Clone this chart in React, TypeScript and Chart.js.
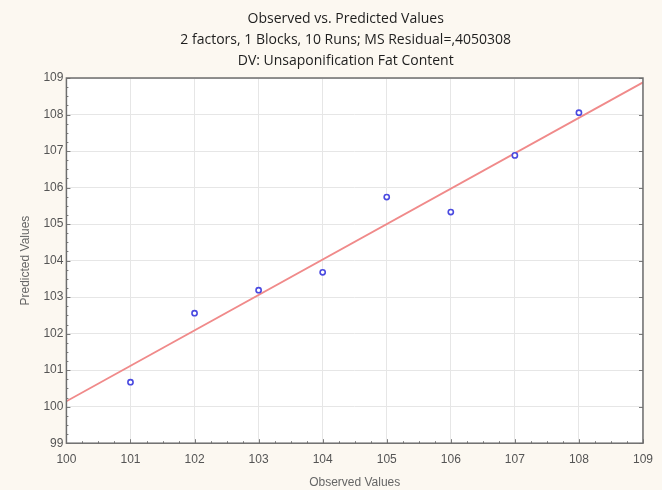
import React, { useEffect, useRef } from "react";
import { Chart, registerables } from "chart.js";

Chart.register(...registerables);

const titleLines = [
  "Observed vs. Predicted Values",
  "2 factors, 1 Blocks, 10 Runs; MS Residual=,4050308",
  "DV: Unsaponification Fat Content",
];
const xAxisTitle = "Observed Values";
const yAxisTitle = "Predicted Values";

const observed = [101, 102, 103, 104, 105, 106, 107, 108];
const predicted = [100.67, 102.56, 103.19, 103.68, 105.74, 105.33, 106.88, 108.05];

const fitX = [100, 109];
const fitY = [100.15, 108.88];

const xMin = 100;
const xMax = 109;
const yMin = 99;
const yMax = 109;

const BG = "#fcf8f1";

const framePlugin = {
  id: "framePlugin",
  beforeDraw(chart: any) {
    const { ctx, chartArea } = chart;
    ctx.save();
    ctx.fillStyle = BG;
    ctx.fillRect(0, 0, chart.width, chart.height);
    ctx.fillStyle = "#ffffff";
    ctx.fillRect(chartArea.left, chartArea.top, chartArea.right - chartArea.left, chartArea.bottom - chartArea.top);
    ctx.restore();
  },
  afterDraw(chart: any) {
    const { ctx, chartArea } = chart;
    const xs = chart.scales.x;
    const ys = chart.scales.y;
    ctx.save();
    ctx.strokeStyle = "#7a7a7a";
    ctx.lineWidth = 1;
    ctx.beginPath();
    for (let v = xMin; v <= xMax + 1e-9; v += 0.25) {
      const px = Math.round(xs.getPixelForValue(v)) + 0.5;
      const len = Math.abs(v - Math.round(v)) < 1e-9 ? 4 : 2;
      ctx.moveTo(px, chartArea.bottom);
      ctx.lineTo(px, chartArea.bottom - len);
    }
    for (let v = yMin; v <= yMax + 1e-9; v += 0.25) {
      const py = Math.round(ys.getPixelForValue(v)) + 0.5;
      const len = Math.abs(v - Math.round(v)) < 1e-9 ? 4 : 2;
      ctx.moveTo(chartArea.left, py);
      ctx.lineTo(chartArea.left + len, py);
      if (len === 4) {
        ctx.moveTo(chartArea.right, py);
        ctx.lineTo(chartArea.right - len, py);
      }
    }
    ctx.stroke();
    ctx.strokeStyle = "#6e6e6e";
    ctx.lineWidth = 1.5;
    ctx.strokeRect(chartArea.left, chartArea.top, chartArea.right - chartArea.left, chartArea.bottom - chartArea.top);
    const cx = (chartArea.left + chartArea.right) / 2 - 9;
    ctx.fillStyle = "#1e1e1e";
    ctx.font = "14px 'Open Sans', sans-serif";
    ctx.textAlign = "center";
    ctx.textBaseline = "middle";
    titleLines.forEach((t, i) => {
      ctx.fillText(t, cx, 19 + i * 21);
    });
    ctx.restore();
  },
};

export default function App() {
  const ref = useRef<HTMLCanvasElement | null>(null);
  useEffect(() => {
    document.body.style.margin = "0";
    document.body.style.background = BG;
    if (!ref.current) return;
    const chart = new Chart(ref.current, {
      type: "scatter",
      data: {
        datasets: [
          {
            label: "Fit",
            type: "line",
            data: fitX.map((x, i) => ({ x, y: fitY[i] })),
            borderColor: "#f08a8a",
            borderWidth: 1.8,
            pointRadius: 0,
            fill: false,
            order: 2,
          } as any,
          {
            label: "Observations",
            data: observed.map((x, i) => ({ x, y: predicted[i] })),
            borderColor: "#4a4ae0",
            backgroundColor: "#ffffff",
            borderWidth: 1.6,
            pointRadius: 2.6,
            order: 1,
          },
        ],
      },
      options: {
        animation: false,
        responsive: true,
        maintainAspectRatio: false,
        layout: { padding: { top: 78, right: 18, bottom: 0, left: 18 } },
        plugins: {
          legend: { display: false },
          tooltip: { enabled: false },
          title: { display: false },
        },
        scales: {
          x: {
            type: "linear",
            min: xMin,
            max: xMax,
            ticks: {
              stepSize: 1,
              color: "#555555",
              padding: 9,
              font: { family: "'Liberation Sans', Arial, sans-serif", size: 12 },
            },
            grid: { color: "#e6e6e6", drawTicks: false },
            border: { display: false },
            title: {
              display: true,
              text: xAxisTitle,
              color: "#666666",
              font: { family: "'Liberation Sans', Arial, sans-serif", size: 12 },
              padding: { top: 0, bottom: 0 },
            },
          },
          y: {
            type: "linear",
            min: yMin,
            max: yMax,
            ticks: {
              stepSize: 1,
              color: "#555555",
              padding: 3,
              font: { family: "'Liberation Sans', Arial, sans-serif", size: 12 },
            },
            grid: { color: "#e6e6e6", drawTicks: false },
            border: { display: false },
            title: {
              display: true,
              text: yAxisTitle,
              color: "#666666",
              font: { family: "'Liberation Sans', Arial, sans-serif", size: 12 },
              padding: { top: 0, bottom: 8 },
            },
          },
        },
      },
      plugins: [framePlugin],
    });
    return () => chart.destroy();
  }, []);
  return (
    <div style={{ width: 662, height: 490, position: "relative", background: BG }}>
      <canvas ref={ref} />
    </div>
  );
}
